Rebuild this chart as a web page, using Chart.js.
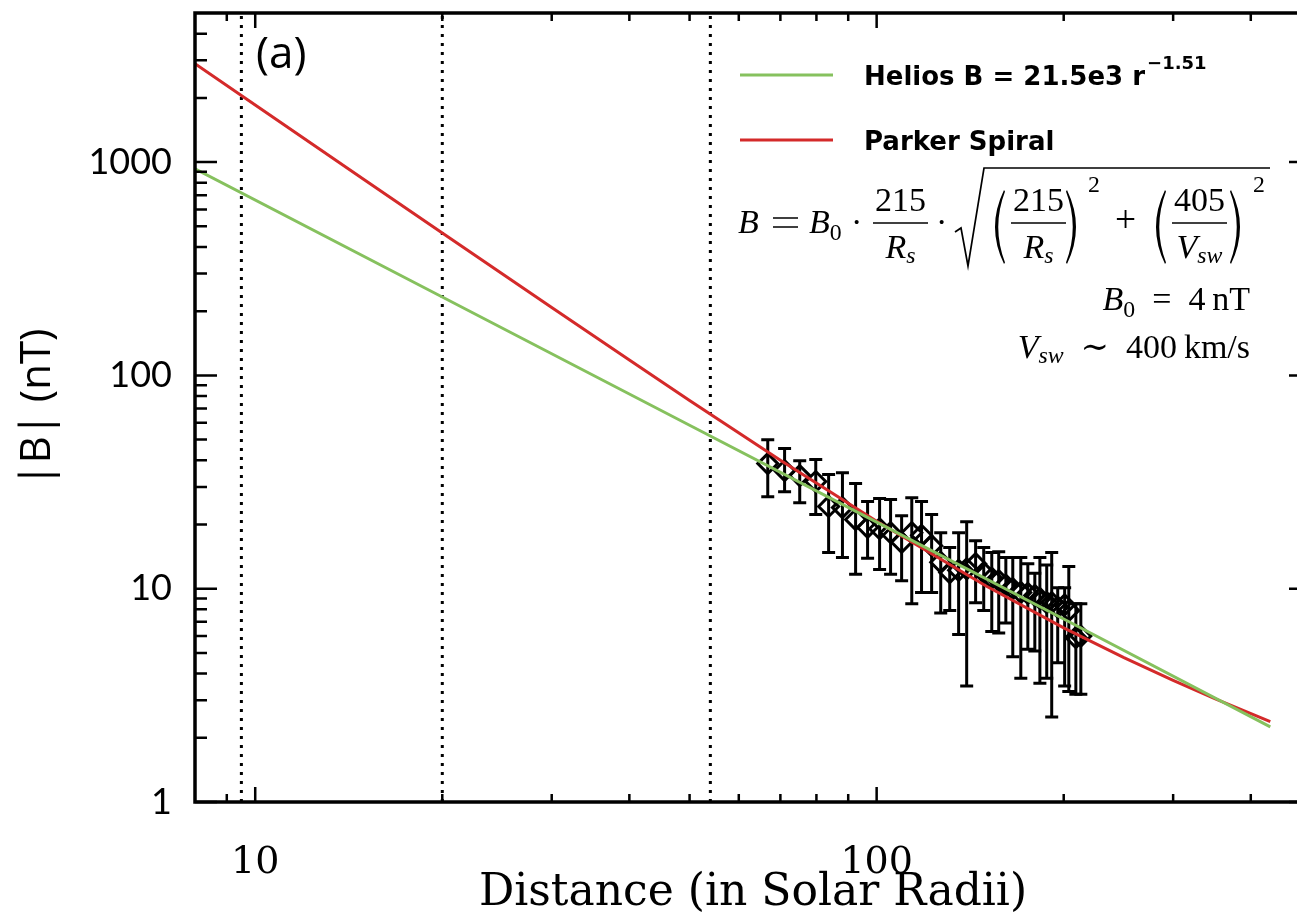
<!DOCTYPE html>
<html>
<head>
<meta charset="utf-8">
<script src="https://cdn.jsdelivr.net/npm/chart.js@4.4.1/dist/chart.umd.min.js"></script>
<style>
  html, body { margin: 0; padding: 0; background: #fff; overflow: hidden; }
  #wrap { width: 1330px; height: 917px; }
</style>
</head>
<body>
<div id="wrap"><canvas id="bfield" width="1330" height="917"></canvas></div>
<script>
const distance = [66.8, 71.1, 75.2, 79.8, 83.7, 88.1, 92.5, 96.7, 101.1, 105.3, 109.7, 113.9,
  118.1, 122.6, 126.8, 131.1, 135.5, 139.6, 144.3, 148.7, 153.2, 157.2, 161.4, 165.6, 170.6,
  175.1, 179.7, 183.1, 187.8, 191.3, 195.6, 200.7, 203.8, 209.2, 213.1]
const fieldB = [38.6, 35.8, 33.9, 31.8, 24.3, 24.0, 21.1, 19.4, 19.1, 18.3, 16.5, 18.3,
  17.8, 15.9, 13.3, 11.9, 12.2, 12.4, 13.1, 11.9, 11.2, 10.9, 10.4, 10.0, 9.6,
  9.5, 9.3, 9.0, 8.6, 8.6, 8.2, 8.4, 7.9, 5.9, 6.0]
const fieldHigh = [49.9, 45.4, 39.8, 40.3, 34.3, 35.0, 31.1, 25.6, 26.5, 26.2, 22.0, 26.7,
  25.6, 22.3, 18.3, 15.6, 18.3, 20.6, 16.8, 15.6, 14.8, 14.9, 14.0, 14.0, 14.0,
  13.1, 11.8, 14.0, 12.9, 14.8, 10.1, 10.1, 12.7, 8.5, 8.5]
const fieldLow = [27.0, 28.5, 25.3, 22.3, 14.8, 14.0, 11.7, 13.9, 12.3, 11.7, 10.9, 8.5,
  9.6, 9.6, 7.7, 7.9, 6.1, 3.5, 8.6, 7.9, 6.3, 6.2, 6.9, 4.8, 3.8,
  5.2, 5.1, 3.6, 3.8, 2.5, 4.5, 3.5, 3.3, 3.2, 3.2]

// model curves
const heliosR = [8, 20, 50, 100, 200, 430]
const heliosB = [930, 233, 58.4, 20.5, 7.21, 2.25]
const parkerR = [8, 10, 15, 20, 30, 40, 50, 70, 100, 150, 200, 250, 300, 350, 430]
const parkerB = [2890, 1852, 825, 465, 208, 118, 76.3, 40.0, 20.7, 10.3, 6.55, 4.75, 3.72, 3.05, 2.38]

// vertical dotted markers
const markerR = [9.5, 20, 54]

// axis ticks
const xMajorTicks = [10, 100]
const xMinorTicks = [9, 20, 30, 40, 50, 60, 70, 80, 90, 200, 300, 400]
const yMajorTicks = [1, 10, 100, 1000]
const yMinorTicks = [2, 3, 4, 5, 6, 7, 8, 9, 20, 30, 40, 50, 60, 70, 80, 90,
  200, 300, 400, 500, 600, 700, 800, 900, 2000, 3000, 4000]

const GREEN = '#86c15e'
const RED = '#d42a2a'
const SERIF = '"Liberation Serif", "DejaVu Serif", serif'
const AXSERIF = '"DejaVu Serif", "Liberation Serif", serif'

const toXY = (xs, ys) => xs.map((x, i) => ({ x: x, y: ys[i] }))

const errorBars = {
  id: 'errorBars',
  beforeDatasetsDraw (chart) {
    const { ctx, scales: { x, y } } = chart
    ctx.save()
    ctx.strokeStyle = '#000'
    ctx.lineWidth = 3
    distance.forEach((r, i) => {
      const px = x.getPixelForValue(r)
      const hi = y.getPixelForValue(fieldHigh[i])
      const lo = y.getPixelForValue(fieldLow[i])
      ctx.beginPath()
      ctx.moveTo(px, hi); ctx.lineTo(px, lo)
      ctx.moveTo(px - 6.5, hi); ctx.lineTo(px + 6.5, hi)
      ctx.moveTo(px - 6.5, lo); ctx.lineTo(px + 6.5, lo)
      ctx.stroke()
    })
    ctx.restore()
  }
}

const frame = {
  id: 'frame',
  afterDraw (chart) {
    const { ctx, chartArea: a, scales: { x, y } } = chart
    ctx.save()
    ctx.strokeStyle = '#000'
    ctx.lineWidth = 2.5
    ctx.beginPath()
    const xt = (v, len) => {
      const p = x.getPixelForValue(v)
      ctx.moveTo(p, a.bottom); ctx.lineTo(p, a.bottom - len)
      ctx.moveTo(p, a.top); ctx.lineTo(p, a.top + len)
    }
    const yt = (v, len) => {
      const p = y.getPixelForValue(v)
      ctx.moveTo(a.left, p); ctx.lineTo(a.left + len, p)
      ctx.moveTo(a.right, p); ctx.lineTo(a.right - len, p)
    }
    xMajorTicks.forEach(v => xt(v, 15))
    xMinorTicks.forEach(v => xt(v, 8))
    yMajorTicks.forEach(v => yt(v, 22))
    yMinorTicks.forEach(v => yt(v, 12))
    ctx.stroke()
    ctx.lineWidth = 3.5
    ctx.strokeRect(a.left, a.top, a.right - a.left, a.bottom - a.top)

    // panel label
    ctx.fillStyle = '#000'
    ctx.textBaseline = 'alphabetic'
    ctx.textAlign = 'left'
    ctx.font = '44px "Open Sans", sans-serif'
    ctx.fillText('(a)', 256, 68)

    // legend
    const legend = [
      { label: 'Helios B = 21.5e3 r', sup: '\u22121.51', color: GREEN, y: 75 },
      { label: 'Parker Spiral', sup: '', color: RED, y: 140 }
    ]
    legend.forEach(it => {
      ctx.strokeStyle = it.color
      ctx.lineWidth = 3
      ctx.beginPath(); ctx.moveTo(740, it.y); ctx.lineTo(833, it.y); ctx.stroke()
      ctx.font = 'bold 26px "DejaVu Sans", sans-serif'
      ctx.fillText(it.label, 864, it.y + 10)
      if (it.sup) {
        const w = ctx.measureText(it.label).width
        ctx.font = 'bold 18px "DejaVu Sans", sans-serif'
        ctx.fillText(it.sup, 864 + w + 2, it.y - 6)
      }
    })

    drawFormula(ctx)
    ctx.restore()
  }
}

function drawFormula (ctx) {
  const F = 34
  const font = (sz, it) => (it ? 'italic ' : '') + sz + 'px ' + SERIF
  const wid = (s, sz, it) => { ctx.font = font(sz, it); return ctx.measureText(s).width }
  const put = (s, x, y, sz, it) => { ctx.font = font(sz, it); ctx.fillText(s, x, y); return ctx.measureText(s).width }
  ctx.fillStyle = '#000'
  ctx.strokeStyle = '#000'
  ctx.textAlign = 'left'
  ctx.textBaseline = 'alphabetic'
  const b = 233
  const axis = 223

  const frac = (x, num, den) => {
    const nw = wid(num, F, false)
    let dw = 0
    den.forEach(p => { dw += wid(p[0], p[1], p[2]) })
    const w = Math.max(nw, dw) + 4
    put(num, x + (w - nw) / 2, axis - 12, F, false)
    let dx = x + (w - dw) / 2
    den.forEach(p => { dx += put(p[0], dx, axis + 35 + p[3], p[1], p[2]) })
    ctx.lineWidth = 1.5
    ctx.beginPath(); ctx.moveTo(x, axis); ctx.lineTo(x + w, axis); ctx.stroke()
    return x + w
  }
  const paren = (x, open) => {
    const t = 190, bt = 264, m = (t + bt) / 2
    ctx.beginPath()
    if (open) {
      ctx.moveTo(x + 14, t)
      ctx.quadraticCurveTo(x - 4, m, x + 14, bt)
      ctx.lineTo(x + 15, bt - 1.5)
      ctx.quadraticCurveTo(x + 1.5, m, x + 15, t + 1.5)
    } else {
      ctx.moveTo(x + 1, t)
      ctx.quadraticCurveTo(x + 19, m, x + 1, bt)
      ctx.lineTo(x, bt - 1.5)
      ctx.quadraticCurveTo(x + 13.5, m, x, t + 1.5)
    }
    ctx.closePath()
    ctx.fill()
  }

  put('B', 738, b, F, true)
  ctx.lineWidth = 1.6
  ctx.beginPath()
  ctx.moveTo(773, axis - 5); ctx.lineTo(798, axis - 5)
  ctx.moveTo(773, axis + 4); ctx.lineTo(798, axis + 4)
  ctx.stroke()
  const bw = put('B', 809, b, F, true)
  put('0', 809 + bw, b + 7, F * 0.7, false)
  put('\u00b7', 851, b, F, false)
  frac(873, '215', [['R', F, true, 0], ['s', F * 0.7, true, 5]])
  put('\u00b7', 936, b, F, false)

  // radical
  ctx.lineWidth = 1.7
  ctx.beginPath()
  ctx.moveTo(955, 232); ctx.lineTo(961, 228)
  ctx.lineTo(968, 266); ctx.lineTo(984, 168); ctx.lineTo(1270, 168)
  ctx.stroke()

  paren(990, true)
  frac(1011, '215', [['R', F, true, 0], ['s', F * 0.7, true, 5]])
  paren(1066, false)
  put('2', 1088, 192, F * 0.7, false)
  put('+', 1115, b - 1, F * 1.1, false)
  paren(1151, true)
  frac(1172, '405', [['V', F, true, 0], ['sw', F * 0.7, true, 5]])
  paren(1230, false)
  put('2', 1253, 192, F * 0.7, false)

  // parameter rows, right aligned
  const row = (parts, right, y) => {
    let total = 0
    parts.forEach(p => { total += wid(p[0], p[1], p[2]) })
    let x = right - total
    parts.forEach(p => { x += put(p[0], x, y + p[3], p[1], p[2]) })
  }
  row([['B', F, true, 0], ['0', F * 0.7, false, 7], ['\u2002=\u2002', F, false, 0], ['4', F, false, 0], ['\u2009nT', F, false, 0]], 1250, 310)
  row([['V', F, true, 0], ['sw', F * 0.7, true, 5], ['\u2002\u223c\u2002', F, false, 0], ['400', F, false, 0], ['\u2009km/s', F, false, 0]], 1250, 358)
}

const markerSets = markerR.map(r => ({
  type: 'line',
  data: [{ x: r, y: 1 }, { x: r, y: 5000 }],
  borderColor: '#000',
  borderWidth: 3,
  borderDash: [3, 6],
  pointRadius: 0,
  order: 2
}))

const ctx = document.getElementById('bfield').getContext('2d')

const chart = new Chart(ctx, {
  type: 'line',
  data: {
    datasets: [
      {
        label: 'Helios',
        data: toXY(heliosR, heliosB),
        borderColor: GREEN,
        borderWidth: 3,
        pointRadius: 0,
        order: 0
      },
      {
        label: 'Parker Spiral',
        data: toXY(parkerR, parkerB),
        borderColor: RED,
        borderWidth: 3,
        pointRadius: 0,
        order: 0
      },
      {
        label: 'Observed',
        data: toXY(distance, fieldB),
        showLine: false,
        pointStyle: 'rectRot',
        pointRadius: 10,
        pointBorderWidth: 3,
        pointBorderColor: '#000',
        pointBackgroundColor: 'rgba(0,0,0,0)',
        order: 1
      },
      ...markerSets
    ]
  },
  options: {
    responsive: false,
    animation: false,
    events: [],
    layout: { padding: { top: 11, right: 19, left: 0, bottom: 0 } },
    plugins: {
      legend: { display: false },
      tooltip: { enabled: false }
    },
    scales: {
      x: {
        type: 'logarithmic',
        min: 8,
        max: 500,
        grid: { display: false },
        border: { display: false },
        ticks: {
          autoSkip: false,
          maxRotation: 0,
          padding: 30,
          color: '#000',
          font: { family: AXSERIF, size: 38 },
          callback: v => (xMajorTicks.includes(v) ? String(v) : '')
        },
        title: {
          display: true,
          text: 'Distance (in Solar Radii)',
          color: '#000',
          font: { family: AXSERIF, size: 44 },
          padding: { top: 0, bottom: -3 }
        },
        afterFit: s => { s.height = 115; s.paddingLeft = 0; s.paddingRight = 0 }
      },
      y: {
        type: 'logarithmic',
        min: 1,
        max: 5000,
        grid: { display: false },
        border: { display: false },
        ticks: {
          autoSkip: false,
          padding: 15,
          color: '#000',
          font: { family: 'Lato, "Open Sans", sans-serif', size: 36 },
          callback: v => (yMajorTicks.includes(v) ? String(v) : '')
        },
        title: {
          display: true,
          text: '|B| (nT)',
          color: '#000',
          font: { family: '"Open Sans", sans-serif', size: 42 },
          padding: { top: 13, bottom: 0 }
        },
        afterFit: s => { s.width = 195; s.paddingTop = 0; s.paddingBottom = 0 }
      }
    }
  },
  plugins: [errorBars, frame]
})
</script>
</body>
</html>
